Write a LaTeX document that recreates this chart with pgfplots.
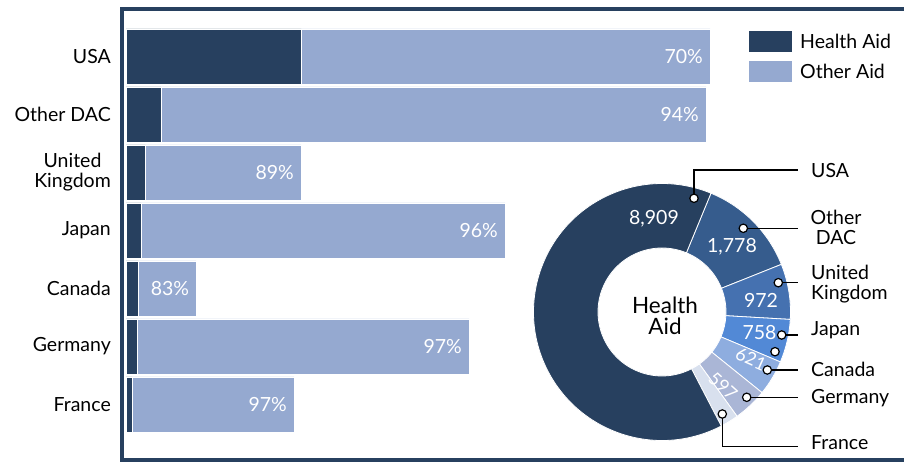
\documentclass[border=0pt]{standalone}
\usepackage{pgfplots}
\pgfplotsset{compat=1.18}
\usepackage{pgfplotstable}
\usepackage{fontspec}
\setmainfont{Lato}
\definecolor{navy}{HTML}{27405F}
\definecolor{lightaid}{HTML}{95A9D0}
\definecolor{dac}{HTML}{365C8D}
\definecolor{ukc}{HTML}{4571B0}
\definecolor{jpc}{HTML}{5289D6}
\definecolor{cac}{HTML}{8EADDF}
\definecolor{dec}{HTML}{AAB6D6}
\definecolor{frc}{HTML}{D8E0EE}
\newcommand\lab{\fontsize{19.5}{20}\selectfont}
\newcommand\slice[3]{%
  \fill[#1, draw=white, line width=0.8pt]
    (axis cs:{128.5*cos(#2)},{128.5*sin(#2)})
    arc[start angle=#2, end angle=#3, radius=128.5]
    -- (axis cs:{64*cos(#3)},{64*sin(#3)})
    arc[start angle=#3, end angle=#2, radius=64] -- cycle;}
\newcommand\calldot[1]{\draw[black, fill=white, line width=1.2pt] (axis cs:#1) circle[radius=4.2];}

% total aid split into health aid and other aid (US$ millions)
\pgfplotstableread{
y health other total label
6 8909 20781 29690 70\%
5 1778 27709 29487 94\%
4 972 7925 8897 89\%
3 758 18510 19268 96\%
2 621 2950 3571 83\%
1 597 16841 17438 97\%
0 320 8221 8541 97\%
}\bardata

\begin{document}
\begin{tikzpicture}[x=1pt,y=1pt]
\useasboundingbox (0,0) rectangle (904,462);
\fill[white] (0,0) rectangle (904,462);
\draw[navy, line width=4.5pt] (904,453) -- (122,453) -- (122,1.5) -- (904,1.5);

\begin{axis}[
  at={(126pt,28.5pt)}, anchor=south west,
  scale only axis, width=584pt, height=406pt,
  xmin=0, xmax=29690, ymin=-0.5, ymax=6.5,
  xbar stacked, bar width=55pt,
  axis line style={draw=none},
  xtick=\empty,
  ytick={0,...,6},
  yticklabels={France,Germany,Canada,Japan,{United\\Kingdom},Other DAC,USA},
  major tick length=0pt,
  yticklabel style={align=center, inner sep=0pt, xshift=-15pt, font=\lab, text=black},
  legend style={at={(1.0668,0.9914)}, anchor=north west, draw=none, fill=none,
    inner sep=0pt, row sep=9pt, column sep=8pt, font=\lab,
    nodes={inner ysep=0pt, inner xsep=0pt}},
  legend cell align=left,
  legend image code/.code={\fill[#1, draw=none] (0pt,-10.5pt) rectangle (43pt,10.5pt);},
  clip=false,
]
\addplot[fill=navy, draw=white, line width=0.8pt] table[x=health, y=y] {\bardata};
\addlegendentry{Health Aid}
\addplot[fill=lightaid, draw=white, line width=0.8pt] table[x=other, y=y] {\bardata};
\addlegendentry{Other Aid}
\end{axis}

% share of other aid, written at the end of each bar
\begin{axis}[
  at={(126pt,28.5pt)}, anchor=south west,
  scale only axis, width=584pt, height=406pt,
  xmin=0, xmax=29690, ymin=-0.5, ymax=6.5,
  hide axis, clip=false,
]
\addplot[draw=none, mark=none,
  nodes near coords, point meta=explicit symbolic,
  every node near coord/.append style={anchor=east, xshift=-7pt, inner sep=0pt, text=white, font=\lab}]
  table[x=total, y=y, meta=label] {\bardata};
\end{axis}

% donut: health aid by donor
\pgfmathsetmacro\T{8909+1778+972+758+621+597+320}
\pgfmathsetmacro\k{360/\T}
\pgfmathsetmacro\aA{67.6}
\pgfmathsetmacro\aB{\aA-\k*1778}
\pgfmathsetmacro\aC{\aB-\k*972}
\pgfmathsetmacro\aD{\aC-\k*758}
\pgfmathsetmacro\aE{\aD-\k*621}
\pgfmathsetmacro\aF{\aE-\k*597}
\pgfmathsetmacro\aG{\aF-\k*320}
\pgfmathsetmacro\aH{\aA-360}

\begin{axis}[
  at={(662pt,150pt)}, anchor=center,
  scale only axis, width=300pt, height=300pt,
  xmin=-150, xmax=150, ymin=-150, ymax=150,
  hide axis, clip=false,
]
\slice{dac}{\aA}{\aB}
\slice{ukc}{\aB}{\aC}
\slice{jpc}{\aC}{\aD}
\slice{cac}{\aD}{\aE}
\slice{dec}{\aE}{\aF}
\slice{frc}{\aF}{\aG}
\slice{navy}{\aG}{\aH}

\node[font=\fontsize{22.5}{21}\selectfont, align=center, text=black] at (axis cs:3,-4) {Health\\Aid};
\node[font=\lab, text=white] at (axis cs:-8,93) {8,909};
\node[font=\lab, text=white] at (axis cs:70,65) {1,778};
\node[font=\lab, text=white] at (axis cs:99,12) {972};
\node[font=\lab, text=white] at (axis cs:97.5,-21) {758};
\node[font=\fontsize{18}{19}\selectfont, text=white, rotate=-24, inner sep=0pt] at (axis cs:89,-47) {621};
\node[font=\fontsize{18}{19}\selectfont, text=white, rotate=-42, inner sep=0pt] at (axis cs:61,-74) {597};

\draw[black, line width=1.2pt] (axis cs:32,113.7) |- (axis cs:136,142);
\draw[black, line width=1.2pt] (axis cs:81.3,83.7) -- (axis cs:136,83.7);
\draw[black, line width=1.2pt] (axis cs:116.3,29.3) -- (axis cs:136,29.3);
\draw[black, line width=1.2pt] (axis cs:119.7,-23) -- (axis cs:136,-23);
\draw[black, line width=1.2pt] (axis cs:105.3,-58) -- (axis cs:136,-58);
\draw[black, line width=1.2pt] (axis cs:84.7,-85.3) -- (axis cs:136,-85.3);
\draw[black, line width=1.2pt] (axis cs:60.3,-102) |- (axis cs:136,-134.7);
\calldot{32,113.7}
\calldot{81.3,83.7}
\calldot{116.3,29.3}
\calldot{119.7,-23}
\calldot{113,-39.7}
\calldot{105.3,-58}
\calldot{84.7,-85.3}
\calldot{60.3,-102}

\node[font=\lab, anchor=base west, inner sep=0pt] at (axis cs:149,134) {USA};
\node[font=\lab, anchor=north, align=center, inner sep=0pt] at (axis cs:174,102) {Other\\DAC};
\node[font=\lab, anchor=north west, align=left, inner sep=0pt] at (axis cs:149,47) {United\\Kingdom};
\node[font=\lab, anchor=base west, inner sep=0pt] at (axis cs:149,-24) {Japan};
\node[font=\lab, anchor=base west, inner sep=0pt] at (axis cs:149,-65) {Canada};
\node[font=\lab, anchor=base west, inner sep=0pt] at (axis cs:149,-92) {Germany};
\node[font=\lab, anchor=base west, inner sep=0pt] at (axis cs:149,-138) {France};
\end{axis}
\end{tikzpicture}
\end{document}
